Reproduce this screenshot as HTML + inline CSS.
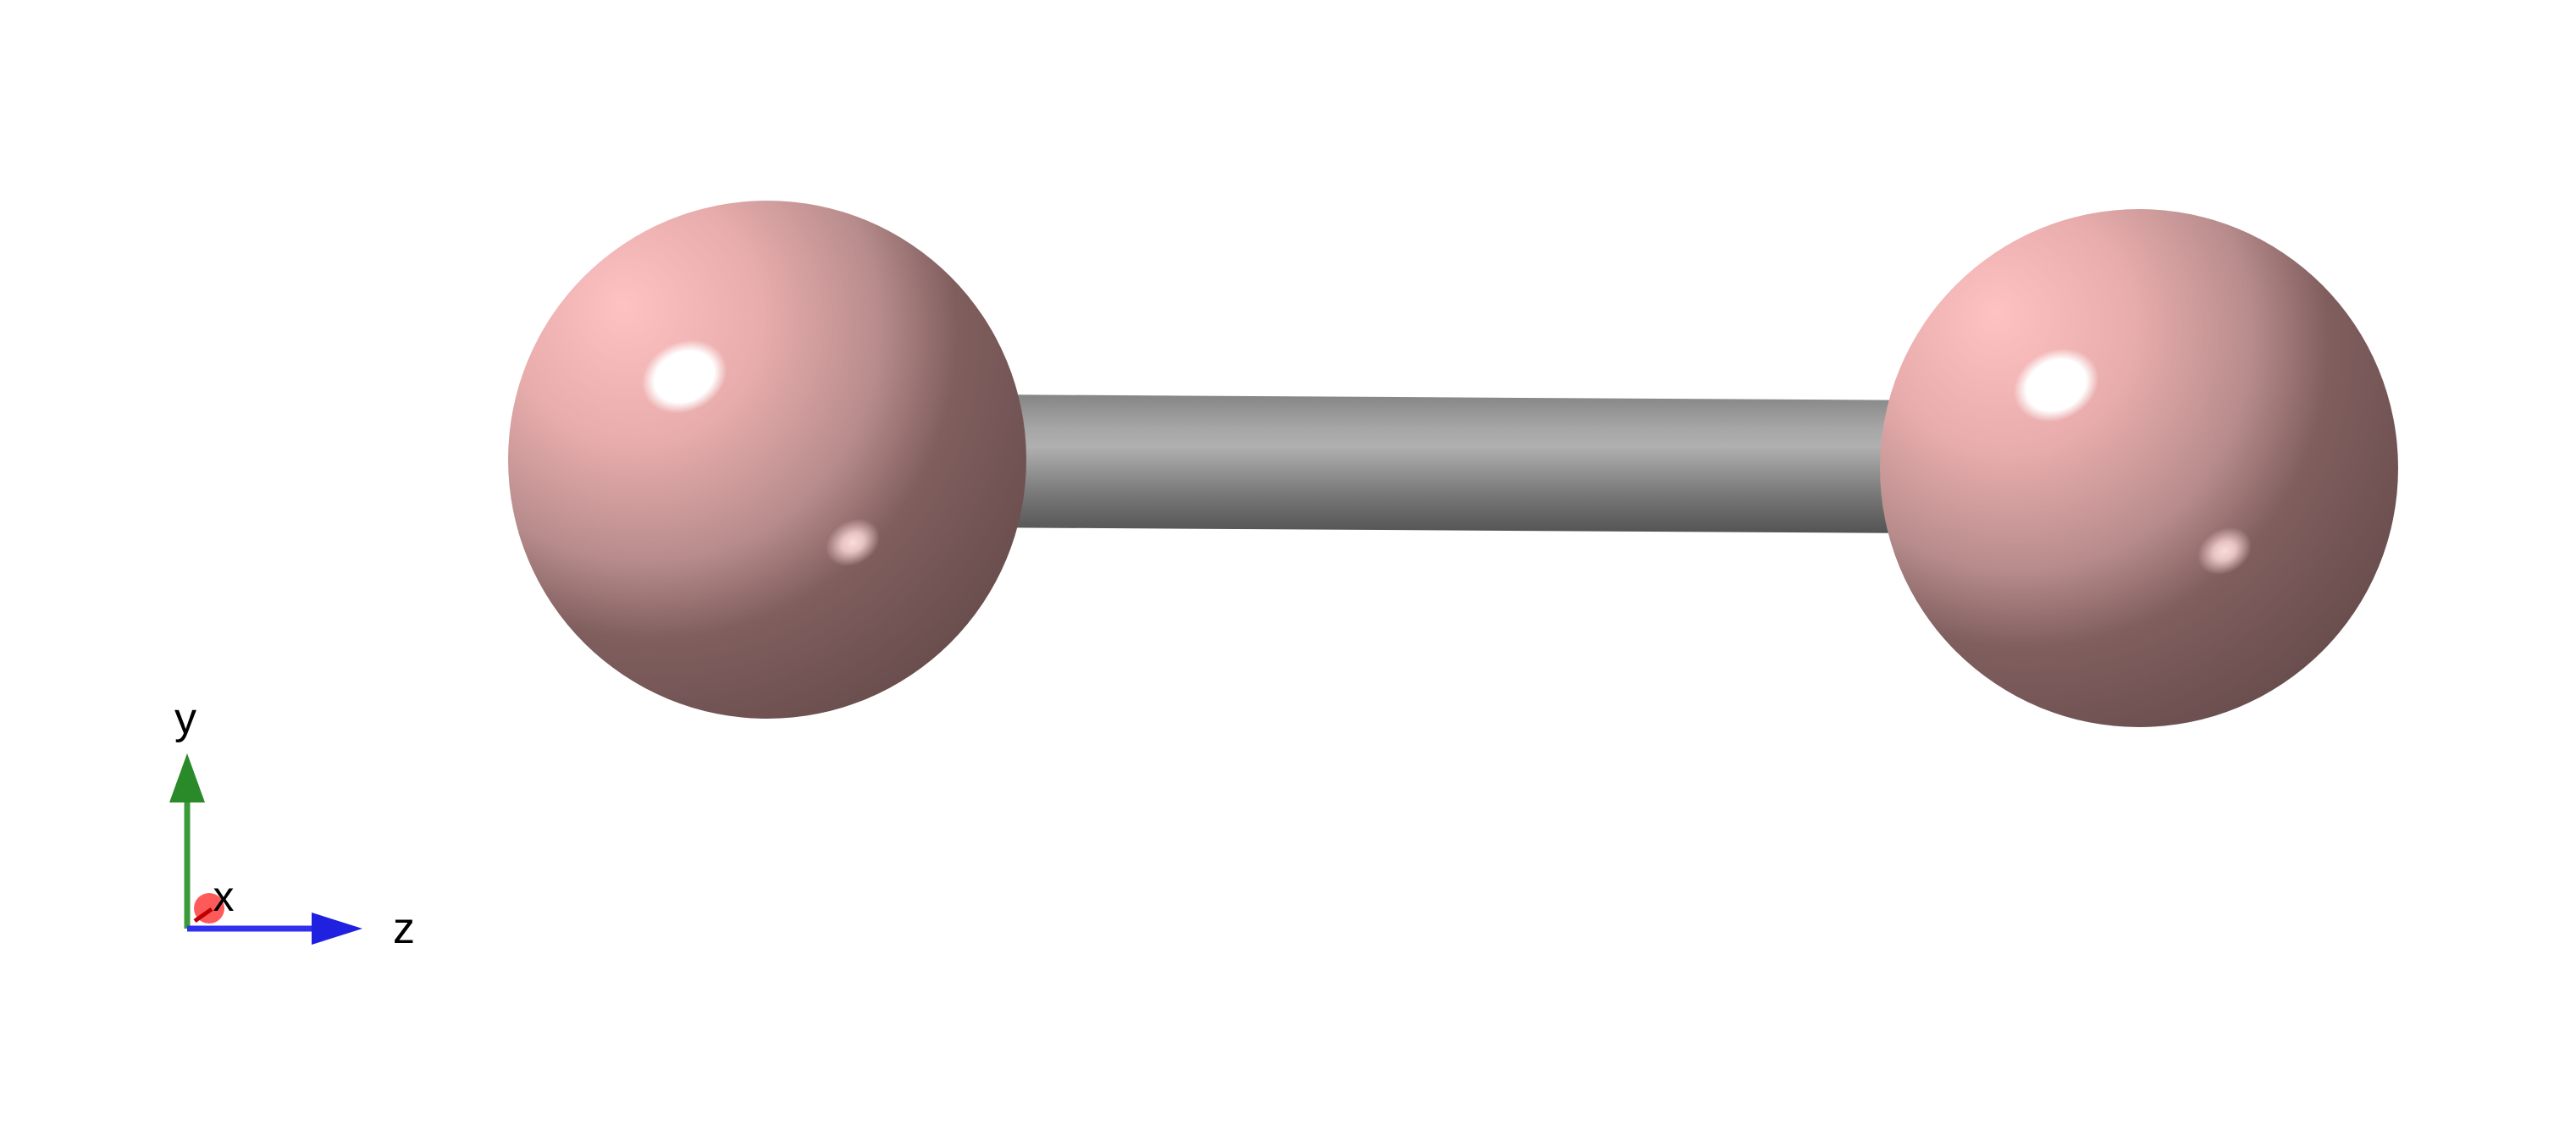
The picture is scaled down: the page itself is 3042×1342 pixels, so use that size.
<!DOCTYPE html>
<html><head><meta charset="utf-8"><style>
html,body{margin:0;padding:0;background:#fff;}
svg{display:block;}
text{font-family:"Liberation Sans",sans-serif;fill:#000;}
</style></head><body>
<svg id="scene" width="3042" height="1342" viewBox="0 0 3042 1342" xmlns="http://www.w3.org/2000/svg">
<defs>
<radialGradient id="atomGrad" cx="0.3" cy="0.28" r="0.82" fx="0.22" fy="0.2">
<stop offset="0" stop-color="#ffc2c2"/>
<stop offset="0.3" stop-color="#e8acac"/>
<stop offset="0.55" stop-color="#b88c8c"/>
<stop offset="0.72" stop-color="#805e5e"/>
<stop offset="1" stop-color="#684c4c"/>
</radialGradient>
<radialGradient id="spec" cx="0.5" cy="0.5" r="0.5">
<stop offset="0" stop-color="#fff"/>
<stop offset="0.7" stop-color="#fff"/>
<stop offset="1" stop-color="#fff" stop-opacity="0"/>
</radialGradient>
<radialGradient id="spec2" cx="0.5" cy="0.5" r="0.5">
<stop offset="0" stop-color="#f8dcdc"/>
<stop offset="0.4" stop-color="#e8c4c4"/>
<stop offset="1" stop-color="#e8c4c4" stop-opacity="0"/>
</radialGradient>
<linearGradient id="bondGrad" x1="0" y1="0" x2="0" y2="1">
<stop offset="0" stop-color="#848484"/>
<stop offset="0.25" stop-color="#a6a6a6"/>
<stop offset="0.38" stop-color="#b0b0b0"/>
<stop offset="0.7" stop-color="#7a7a7a"/>
<stop offset="1" stop-color="#525252"/>
</linearGradient>
</defs>
<g id="mol"></g>
<g id="triad">
<line x1="221" y1="1097" x2="221" y2="945" stroke="#3a9a3a" stroke-width="7"/>
<polygon points="221,890 200,948 242,948" fill="#2a8a2a"/>
<circle cx="247" cy="1073" r="18" fill="#ff5a5a"/>
<line x1="230" y1="1088" x2="250" y2="1074" stroke="#c00000" stroke-width="5"/>
<line x1="221" y1="1097" x2="370" y2="1097" stroke="#3030ee" stroke-width="7"/>
<polygon points="428,1097 368,1078 368,1116" fill="#2020e0"/>
<text x="219" y="866" font-size="52" text-anchor="middle">y</text>
<text x="264" y="1076" font-size="50" text-anchor="middle">x</text>
<text x="477" y="1114" font-size="52" text-anchor="middle">z</text>
</g>
</svg>
<script>
// atom positions in scene units (z horizontal, y vertical)
const atomNames = ["atom-1","atom-2"];
const atomZ = [0.0, 2.0];
const atomY = [0.0, -0.02];
const atomRadius = 0.37;
const bondRadius = 0.095;

const NS = "http://www.w3.org/2000/svg";
const sx = z => 906 + (z - atomZ[0]) * 810;
const sy = y => 543 - y * 500;
const sr = r => r * 827;
const g = document.getElementById("mol");

// bond
const x1 = sx(atomZ[0]), y1 = sy(atomY[0]), x2 = sx(atomZ[1]), y2 = sy(atomY[1]);
const br = sr(bondRadius);
const bond = document.createElementNS(NS, "polygon");
bond.setAttribute("points", `${x1},${y1-br} ${x2},${y2-br} ${x2},${y2+br} ${x1},${y1+br}`);
bond.setAttribute("fill", "url(#bondGrad)");


g.appendChild(bond);

for (let i = 0; i < atomZ.length; i++) {
  const cx = sx(atomZ[i]), cy = sy(atomY[i]), r = sr(atomRadius);
  const grp = document.createElementNS(NS, "g");
  
  
  const c = document.createElementNS(NS, "circle");
  c.setAttribute("cx", cx); c.setAttribute("cy", cy); c.setAttribute("r", r);
  c.setAttribute("fill", "url(#atomGrad)");
  
  
  grp.appendChild(c);
  const h = document.createElementNS(NS, "ellipse");
  h.setAttribute("cx", cx - r*0.32); h.setAttribute("cy", cy - r*0.32);
  h.setAttribute("rx", r*0.17); h.setAttribute("ry", r*0.135);
  h.setAttribute("transform", `rotate(-25 ${cx - r*0.32} ${cy - r*0.32})`);
  h.setAttribute("fill", "url(#spec)");
  
  
  grp.appendChild(h);
  const h2 = document.createElementNS(NS, "ellipse");
  h2.setAttribute("cx", cx + r*0.33); h2.setAttribute("cy", cy + r*0.32);
  h2.setAttribute("rx", r*0.11); h2.setAttribute("ry", r*0.085);
  h2.setAttribute("transform", `rotate(-30 ${cx + r*0.33} ${cy + r*0.32})`);
  h2.setAttribute("fill", "url(#spec2)");
  
  
  grp.appendChild(h2);
  g.appendChild(grp);
}
</script>
</body></html>
